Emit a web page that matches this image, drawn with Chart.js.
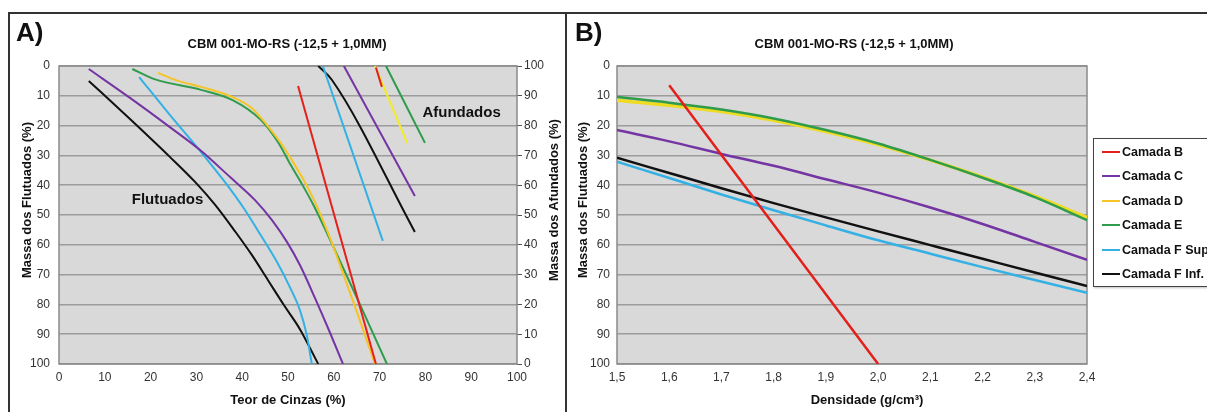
<!DOCTYPE html>
<html lang="pt-BR">
<head>
<meta charset="utf-8">
<title>CBM 001-MO-RS</title>
<script src="https://cdn.jsdelivr.net/npm/chart.js@4.4.1/dist/chart.umd.min.js"></script>
<style>
  body { margin: 0; width: 1207px; height: 412px; overflow: hidden; background: #fff; position: relative;
         font-family: Arial, "Liberation Sans", sans-serif; color: #111; }
  canvas { position: absolute; top: 0; }
  #grafA { left: 0; }
  #grafB { left: 566px; }
  #moldura { position: absolute; left: 8px; top: 12px; width: 1300px; height: 500px; border: 2px solid #333; box-sizing: border-box; z-index: 2; }
  #divisor { position: absolute; left: 565px; top: 12px; width: 2px; height: 400px; background: #333; z-index: 2; }
  .letra { position: absolute; top: 19px; font-size: 26px; font-weight: bold; line-height: 1; }
  .titulo { position: absolute; top: 37px; font-size: 13px; font-weight: bold; line-height: 1; white-space: nowrap; transform: translateX(-50%); }
  #legenda { position: absolute; left: 1093px; top: 138px; width: 130px; height: 149px; box-sizing: border-box;
             border: 1px solid #444; background: #fff; padding-top: 1px; z-index: 3; box-shadow: 1px 1px 2px rgba(0,0,0,0.25); }
  #legenda div { position: relative; height: 24.4px; line-height: 24.4px; font-size: 12.5px; font-weight: bold; padding-left: 28px; white-space: nowrap; }
  #legenda span { position: absolute; left: 8px; top: 11px; width: 18px; height: 2px; }
</style>
</head>
<body>
<canvas id="grafA" width="566" height="412"></canvas>
<canvas id="grafB" width="641" height="412"></canvas>
<div id="moldura"></div>
<div id="divisor"></div>
<div class="letra" style="left:16px">A)</div>
<div class="letra" style="left:575px">B)</div>
<div class="titulo" style="left:287px">CBM 001-MO-RS (-12,5 + 1,0MM)</div>
<div class="titulo" style="left:854px">CBM 001-MO-RS (-12,5 + 1,0MM)</div>
<div id="legenda"></div>
<script>
// Camadas e cores
const nomesCamadas = ['Camada B', 'Camada C', 'Camada D', 'Camada E', 'Camada F Sup', 'Camada F Inf.'];
const coresCamadas = ['#e3201b', '#7434a4', '#f5c426', '#2f9c4b', '#33b1e4', '#111111'];

// Gráfico A - flutuados: [teor de cinzas (%), massa dos flutuados (%)]
const flutB = [[52.2, 6.7], [69.2, 100]];
const flutC = [[6.5, 1], [15.5, 10.7], [24.2, 20.5], [30.8, 28.2], [37.3, 37.2], [42.8, 45], [46.5, 51.7], [49.8, 59.1], [52.6, 66.8], [55.9, 77.9], [59.2, 89.6], [62, 100]];
const flutD = [[21.6, 2.3], [26, 5], [31, 7], [38, 10.5], [42, 14], [45.5, 20], [48.5, 26], [51, 32], [53.5, 38.5], [56, 46], [59, 57], [62, 69.5], [65.5, 84.5], [69, 100]];
const flutE = [[16, 1], [21, 4.5], [31, 8], [38, 11.5], [44, 18], [48, 26], [50.5, 33], [53, 39.5], [55.5, 46.5], [60, 61], [65.7, 80], [71.6, 100]];
const flutFSup = [[17.5, 3.7], [24.2, 16.4], [30.8, 28.5], [36.2, 38.9], [40.6, 48.3], [44.3, 57.4], [47.6, 65.8], [50.4, 74.2], [52.6, 81.9], [54.1, 90.3], [55.2, 100]];
const flutFInf = [[6.5, 5], [15.5, 17.8], [24.2, 30.5], [29.7, 38.9], [34.1, 46.6], [38.4, 55.4], [42.1, 63.4], [45.6, 71.8], [49.1, 80.2], [52.6, 88.3], [56.6, 100]];

// Gráfico A - afundados: [teor de cinzas (%), massa dos afundados (%)]
const afundB = [[69.2, 99.5], [70.5, 93]];
const afundC = [[62.2, 100], [77.7, 56.4]];
const afundD = [[69, 100], [76, 74.2]];
const afundE = [[71.4, 100], [79.9, 74.2]];
const afundFSup = [[57.6, 100], [70.7, 41.3]];
const afundFInf = [[56.6, 100], [59.6, 95.3], [77.7, 44.3]];

// Gráfico B - massa dos flutuados (%) por densidade (g/cm³)
const densidades = [1.5, 1.6, 1.7, 1.8, 1.9, 2.0, 2.1, 2.2, 2.3, 2.4];
const rotulosDensidade = ['1,5', '1,6', '1,7', '1,8', '1,9', '2,0', '2,1', '2,2', '2,3', '2,4'];
const densidadeCamadaB = [1.6, 2.0];
const massaCamadaB = [6.5, 100];
const massaCamadaC = [21.5, 25.3, 29.5, 33.5, 38, 42.5, 47.5, 53, 59, 65];
const massaCamadaD = [11.5, 13.2, 15.3, 18.2, 22, 26.4, 31.6, 37.3, 43.7, 50.8];
const massaCamadaE = [10.4, 12.3, 14.6, 17.6, 21.5, 26, 31.5, 37.5, 44, 51.7];
const massaCamadaFSup = [32.1, 37.6, 43.1, 48.4, 53.5, 58.5, 63, 67.5, 71.8, 76.1];
const massaCamadaFInf = [30.8, 35.9, 41, 46, 50.8, 55.5, 60.1, 64.7, 69.3, 73.8];

Chart.defaults.font.family = 'Arial, "Liberation Sans", sans-serif';
Chart.defaults.color = '#333';

// legenda em HTML
const legenda = document.getElementById('legenda');
nomesCamadas.forEach((nome, i) => {
    const item = document.createElement('div');
    item.innerHTML = '<span style="background:' + coresCamadas[i] + '"></span>' + nome;
    legenda.appendChild(item);
});

// fundo cinza, moldura da área, títulos de eixo e rótulos internos
const areaPlot = {
    id: 'areaPlot',
    beforeDraw(chart) {
        const { ctx, chartArea: a } = chart;
        ctx.save();
        ctx.fillStyle = '#d9d9d9';
        ctx.fillRect(a.left, a.top, a.width, a.height);
        ctx.restore();
    },
    beforeDatasetsDraw(chart) {
        const { ctx, chartArea: a } = chart;
        ctx.save();
        ctx.strokeStyle = '#8a8a8a';
        ctx.lineWidth = 1.5;
        ctx.strokeRect(a.left, a.top, a.width, a.height);
        ctx.restore();
    },
    afterDraw(chart, args, opts) {
        const ctx = chart.ctx;
        ctx.save();
        ctx.fillStyle = '#111';
        ctx.textAlign = 'center';
        ctx.textBaseline = 'middle';
        ctx.font = 'bold 13px Arial, "Liberation Sans", sans-serif';
        (opts.verticais || []).forEach(t => {
            ctx.save();
            ctx.translate(t.x, t.y);
            ctx.rotate(-Math.PI / 2);
            ctx.fillText(t.texto, 0, 0);
            ctx.restore();
        });
        (opts.horizontais || []).forEach(t => ctx.fillText(t.texto, t.x, t.y));
        ctx.font = 'bold 15px Arial, "Liberation Sans", sans-serif';
        (opts.internos || []).forEach(t => {
            const px = chart.scales.x.getPixelForValue(t.x);
            const py = chart.scales[t.eixo].getPixelForValue(t.y);
            ctx.fillText(t.texto, px, py);
        });
        ctx.restore();
    }
};

function pares(pts) {
    return pts.map(p => ({ x: p[0], y: p[1] }));
}
function serie(nome, dados, cor, eixo, largura) {
    return {
        label: nome, data: dados, borderColor: cor, backgroundColor: cor, yAxisID: eixo,
        borderWidth: largura, pointRadius: 0, fill: false, cubicInterpolationMode: 'monotone'
    };
}

const fonteTick = { size: 12 };
const tituloEixo = { size: 13, weight: 'bold' };

// Gráfico A
const seriesFlut = [flutB, flutC, flutD, flutE, flutFSup, flutFInf];
const seriesAfund = [afundB, afundC, afundD, afundE, afundFSup, afundFInf];
const coresAfund = ['#e3201b', '#7434a4', '#f3ec24', '#2f9c4b', '#33b1e4', '#111111'];
const dadosA = [];
seriesFlut.forEach((s, i) => dadosA.push(serie(nomesCamadas[i], pares(s), coresCamadas[i], 'yEsq', 2)));
seriesAfund.forEach((s, i) => dadosA.push(serie(nomesCamadas[i], pares(s), coresAfund[i], 'yDir', 2)));

new Chart(document.getElementById('grafA'), {
    type: 'line',
    data: { datasets: dadosA },
    options: {
        responsive: false, animation: false, devicePixelRatio: 1, events: [],
        layout: { padding: { top: 66, left: 0, right: 0, bottom: 0 } },
        plugins: {
            legend: { display: false }, tooltip: { enabled: false },
            areaPlot: {
                verticais: [
                    { texto: 'Massa dos Flutuados (%)', x: 27, y: 200 },
                    { texto: 'Massa dos Afundados (%)', x: 554, y: 200 }
                ],
                internos: [
                    { texto: 'Flutuados', x: 23.7, y: 45, eixo: 'yEsq' },
                    { texto: 'Afundados', x: 87.9, y: 15.7, eixo: 'yEsq' }
                ]
            }
        },
        scales: {
            x: {
                type: 'linear', min: 0, max: 100,
                ticks: { stepSize: 10, padding: 6, font: fonteTick, maxRotation: 0 },
                grid: { display: false, drawTicks: false }, border: { display: false },
                title: { display: true, text: 'Teor de Cinzas (%)', font: tituloEixo, color: '#111', padding: { top: 0, bottom: 4 } },
                afterFit(s) { s.height = 48; }
            },
            yEsq: {
                type: 'linear', position: 'left', reverse: true, min: 0, max: 100,
                ticks: { stepSize: 10, padding: 9, font: fonteTick },
                grid: { color: '#9c9c9c', lineWidth: 1.5, drawTicks: false }, border: { display: false },
                afterFit(s) { s.width = 59; }
            },
            yDir: {
                type: 'linear', position: 'right', min: 0, max: 100,
                ticks: { stepSize: 10, padding: 2, font: fonteTick },
                grid: { drawOnChartArea: false, drawTicks: true, tickLength: 5, color: '#555', lineWidth: 1 },
                border: { display: false },
                afterFit(s) { s.width = 49; }
            }
        }
    },
    plugins: [areaPlot]
});

// Gráfico B
const massasB = [massaCamadaC, massaCamadaD, massaCamadaE, massaCamadaFSup, massaCamadaFInf];
const coresB = ['#7434a4', '#eedb22', '#2f9c4b', '#33b1e4', '#111111'];
const dadosB = [serie(nomesCamadas[0], densidadeCamadaB.map((d, i) => ({ x: d, y: massaCamadaB[i] })), coresCamadas[0], 'y', 2.5)];
massasB.forEach((m, i) => {
    const ds = serie(nomesCamadas[i + 1], densidades.map((d, j) => ({ x: d, y: m[j] })), coresB[i], 'y', 2.5);
    if (i === 1) { ds.borderWidth = 3.5; ds.order = 2; }   // amarela por baixo da verde
    dadosB.push(ds);
});

new Chart(document.getElementById('grafB'), {
    type: 'line',
    data: { datasets: dadosB },
    options: {
        responsive: false, animation: false, devicePixelRatio: 1, events: [],
        layout: { padding: { top: 66, left: 0, right: 120, bottom: 0 } },
        plugins: {
            legend: { display: false }, tooltip: { enabled: false },
            areaPlot: {
                verticais: [{ texto: 'Massa dos Flutuados (%)', x: 17, y: 200 }],
                horizontais: [{ texto: 'Densidade (g/cm³)', x: 301, y: 400 }]
            }
        },
        scales: {
            x: {
                type: 'linear', min: 1.5, max: 2.4,
                ticks: {
                    stepSize: 0.1, padding: 6, font: fonteTick, maxRotation: 0,
                    callback: (v, i) => rotulosDensidade[i]
                },
                grid: { display: false, drawTicks: false }, border: { display: false },
                afterFit(s) { s.height = 48; }
            },
            y: {
                type: 'linear', position: 'left', reverse: true, min: 0, max: 100,
                ticks: { stepSize: 10, padding: 7, font: fonteTick },
                grid: { color: '#9c9c9c', lineWidth: 1.5, drawTicks: false }, border: { display: false },
                afterFit(s) { s.width = 51; }
            }
        }
    },
    plugins: [areaPlot]
});
</script>
</body>
</html>
